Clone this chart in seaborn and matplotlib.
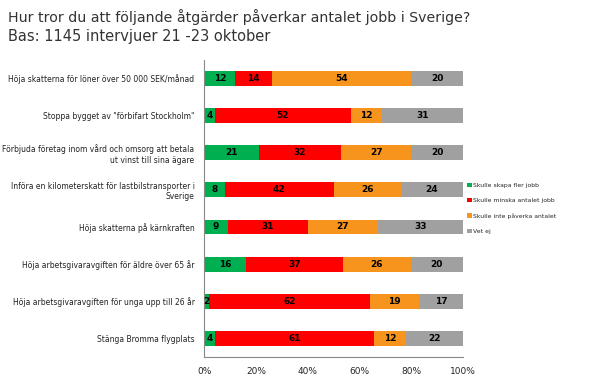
import numpy as np
import pandas as pd
import matplotlib.pyplot as plt
import seaborn as sns

# Data
questions = [
    "Höja skatterna för löner över 50 000 SEK/månad",
    "Stoppa bygget av \"förbifart Stockholm\"",
    "Förbjuda företag inom vård och omsorg att betala\nut vinst till sina ägare",
    "Införa en kilometerskatt för lastbilstransporter i\nSverige",
    "Höja skatterna på kärnkraften",
    "Höja arbetsgivaravgiften för äldre över 65 år",
    "Höja arbetsgivaravgiften för unga upp till 26 år",
    "Stänga Bromma flygplats",
]
skapa = [12, 4, 21, 8, 9, 16, 2, 4]
minska = [14, 52, 32, 42, 31, 37, 62, 61]
inte = [54, 12, 27, 26, 27, 26, 19, 12]
vet_ej = [20, 31, 20, 24, 33, 20, 17, 22]

series = ["Skulle skapa fler jobb", "Skulle minska antalet jobb",
          "Skulle inte påverka antalet", "Vet ej"]
colors = ["#00B050", "#FF0000", "#F7941D", "#A0A0A0"]

df = pd.DataFrame({"Fråga": questions, series[0]: skapa, series[1]: minska,
                   series[2]: inte, series[3]: vet_ej})
# 100% stacked: scale each row to its total
total = df[series].sum(axis=1)
pct = df[series].div(total, axis=0) * 100
cum = pct.cumsum(axis=1)

sns.set_style("white")
plt.rcParams["font.family"] = ["DejaVu Sans"]

fig = plt.figure(figsize=(5.99, 3.81), dpi=100)
ax = fig.add_axes([0.341, 0.063, 0.432, 0.78])

# stacked bars: draw cumulative totals from the largest down
for s, c in reversed(list(zip(series, colors))):
    sns.barplot(x=cum[s], y=df["Fråga"], color=c, orient="h", width=0.4,
                ax=ax, label=s, saturation=1, edgecolor="none")

# value labels
for i in range(len(questions)):
    left = 0
    for s in series:
        w = pct[s][i]
        ax.text(left + w / 2, i, str(df[s][i]), ha="center", va="center",
                fontsize=6.5, fontweight="bold", color="black")
        left += w

ax.set_xlim(0, 100)
ax.set_ylim(len(questions) - 0.5, -0.5)
ax.set_xticks(np.arange(0, 101, 20))
ax.set_xticklabels([f"{t}%" for t in range(0, 101, 20)], fontsize=6.5)
ax.set_yticks(range(len(questions)))
ax.set_yticklabels(questions, fontsize=5.5, color="#222222")
ax.set_yticks(np.arange(-0.5, len(questions), 1), minor=True)
ax.tick_params(axis="y", which="major", length=0, pad=7)
ax.tick_params(axis="y", which="minor", length=4, color="#888888", direction="out")
ax.tick_params(axis="x", length=4, color="#888888", direction="out", pad=3)
ax.set_xlabel("")
ax.set_ylabel("")
for side in ["top", "right"]:
    ax.spines[side].set_visible(False)
for side in ["left", "bottom"]:
    ax.spines[side].set_color("#888888")
    ax.spines[side].set_linewidth(0.8)

handles, labels = ax.get_legend_handles_labels()
order = [labels.index(s) for s in series]
leg = ax.legend([handles[k] for k in order], [labels[k] for k in order],
                loc="center left", bbox_to_anchor=(1.0, 0.5), frameon=False,
                fontsize=4.4, handlelength=0.7, handleheight=0.7,
                handletextpad=0.3, labelspacing=1.6, borderaxespad=0.3)

fig.text(0.013, 0.955, "Hur tror du att följande åtgärder påverkar antalet jobb i Sverige?",
         fontsize=10.2, color="#333333", va="center")
fig.text(0.013, 0.905, "Bas: 1145 intervjuer 21 -23 oktober",
         fontsize=10.5, color="#333333", va="center")

fig.savefig("out.png", dpi=100)
